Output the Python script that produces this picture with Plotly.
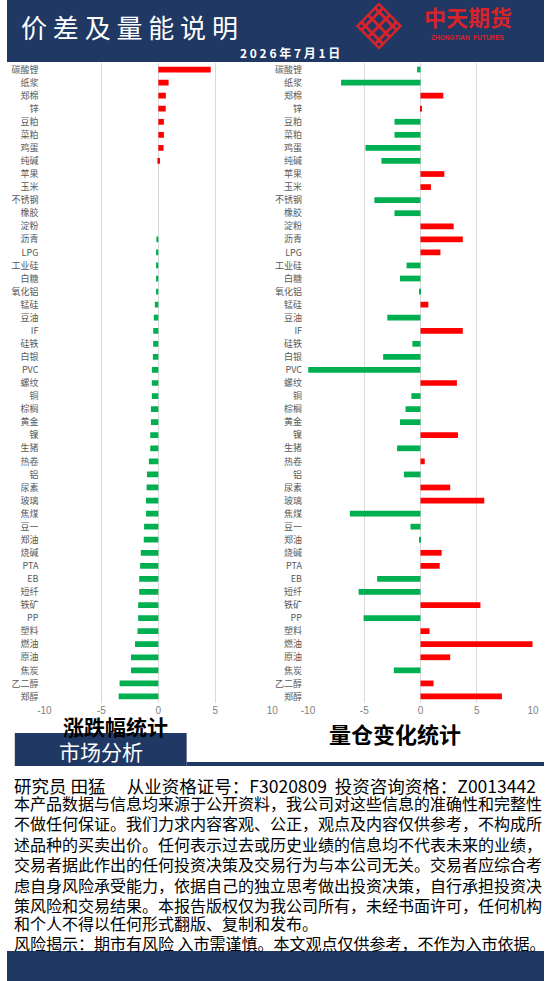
import plotly.graph_objects as go

W, H = 550, 981

categories = ["碳酸锂", "纸浆", "郑棉", "锌", "豆粕", "菜粕", "鸡蛋", "纯碱", "苹果", "玉米",
              "不锈钢", "橡胶", "淀粉", "沥青", "LPG", "工业硅", "白糖", "氧化铝", "锰硅", "豆油",
              "IF", "硅铁", "白银", "PVC", "螺纹", "铜", "棕榈", "黄金", "镍", "生猪",
              "热卷", "铝", "尿素", "玻璃", "焦煤", "豆一", "郑油", "烧碱", "PTA", "EB",
              "短纤", "铁矿", "PP", "塑料", "燃油", "原油", "焦炭", "乙二醇", "郑醇"]

price_change = [4.6, 0.9, 0.66, 0.65, 0.49, 0.49, 0.46, 0.15, 0, 0,
                0, 0, 0, -0.14, -0.2, -0.2, -0.2, -0.2, -0.31, -0.4,
                -0.45, -0.45, -0.48, -0.57, -0.57, -0.57, -0.65, -0.65, -0.71, -0.71,
                -0.83, -1.0, -1.03, -1.08, -1.08, -1.25, -1.28, -1.54, -1.6, -1.68,
                -1.68, -1.77, -1.77, -1.83, -2.05, -2.4, -2.4, -3.4, -3.48]

volume_oi_change = [-0.3, -7.06, 2.03, 0.12, -2.31, -2.31, -4.89, -3.47, 2.12, 0.93,
                    -4.1, -2.31, 2.95, 3.76, 1.77, -1.24, -1.82, -0.12, 0.7, -2.95,
                    3.76, -0.72, -3.32, -9.98, 3.24, -0.81, -1.33, -1.82, 3.33, -2.08,
                    0.38, -1.47, 2.64, 5.67, -6.28, -0.89, -0.1, 1.88, 1.71, -3.85,
                    -5.5, 5.33, -5.06, 0.81, 9.96, 2.64, -2.37, 1.16, 7.24]

x_ticks = [-10, -5, 0, 5, 10]

RED = "#FF0000"
GREEN = "#00B050"
NAVY = "#1F3864"


def px(x):
    return x / W


def py(y):
    return 1 - y / H


def colors(vals):
    return [RED if v > 0 else GREEN for v in vals]


fig = go.Figure()
fig.add_trace(go.Bar(y=categories, x=price_change, orientation="h",
                     marker=dict(color=colors(price_change), line=dict(width=0)),
                     xaxis="x", yaxis="y", showlegend=False))
fig.add_trace(go.Bar(y=categories, x=volume_oi_change, orientation="h",
                     marker=dict(color=colors(volume_oi_change), line=dict(width=0)),
                     xaxis="x2", yaxis="y2", showlegend=False))

y_dom = [py(703), py(63)]
axis_font = dict(family="Noto Sans CJK SC", size=9, color="#595959")
xcommon = dict(range=[-10, 10], tickvals=x_ticks, ticktext=[str(t) for t in x_ticks],
               showgrid=True, gridcolor="#D9D9D9", gridwidth=1, zeroline=False,
               showline=False, ticks="", tickfont=dict(family="Liberation Sans", size=10, color="#7F7F7F"),
               fixedrange=True)
ycommon = dict(type="category", autorange="reversed", showgrid=False, zeroline=False,
               showline=False, ticks="", tickfont=axis_font, ticklabelstandoff=5,
               domain=y_dom, fixedrange=True)

fig.update_layout(
    width=W, height=H,
    margin=dict(l=0, r=0, t=0, b=0),
    paper_bgcolor="white", plot_bgcolor="white",
    bargap=0.56,
    xaxis=dict(domain=[px(38.3), px(271.7)], anchor="y", **xcommon),
    yaxis=dict(anchor="x", **ycommon),
    xaxis2=dict(domain=[px(308.3), px(538.7)], anchor="y2", **xcommon),
    yaxis2=dict(anchor="x2", **ycommon),
)

shapes = [
    dict(type="rect", xref="paper", yref="paper", x0=0, x1=1, y0=py(62), y1=1,
         fillcolor=NAVY, line=dict(width=0), layer="below"),
    dict(type="rect", xref="paper", yref="paper", x0=px(8), x1=px(184), y0=py(766), y1=py(733),
         fillcolor=NAVY, line=dict(width=0)),
    dict(type="rect", xref="paper", yref="paper", x0=px(184), x1=1, y0=py(766), y1=py(762),
         fillcolor=NAVY, line=dict(width=0)),
    dict(type="rect", xref="paper", yref="paper", x0=0, x1=1, y0=0, y1=py(951),
         fillcolor=NAVY, line=dict(width=0)),
]

cx, cy, r = 381, 26, 22
LOGO = "#D8232A"
for k in (-1, 0, 1):
    o = k * 7
    shapes.append(dict(type="line", xref="paper", yref="paper",
                       x0=px(cx - r / 2 + o), y0=py(cy - r / 2 - o),
                       x1=px(cx + r / 2 + o), y1=py(cy + r / 2 - o),
                       line=dict(color=LOGO, width=3)))
    shapes.append(dict(type="line", xref="paper", yref="paper",
                       x0=px(cx - r / 2 + o), y0=py(cy + r / 2 + o),
                       x1=px(cx + r / 2 + o), y1=py(cy - r / 2 + o),
                       line=dict(color=LOGO, width=3)))
shapes.append(dict(type="path", xref="paper", yref="paper",
                   path=f"M {px(cx)} {py(cy - r)} L {px(cx + r)} {py(cy)} L {px(cx)} {py(cy + r)} L {px(cx - r)} {py(cy)} Z",
                   line=dict(color=LOGO, width=2.5)))
fig.update_layout(shapes=shapes)

ann = []


def text(x, y, s, size, color="black", anchor="left", family="Noto Sans CJK SC", bold=False):
    if bold:
        s = f"<b>{s}</b>"
    ann.append(dict(x=px(x), y=py(y), xref="paper", yref="paper", text=s, showarrow=False,
                    xanchor=anchor, yanchor="middle", borderpad=0,
                    font=dict(family=family, size=size, color=color)))


text(13, 26, "价 差 及 量 能 说 明", 26, "white")
text(290, 53, "2 0 2 6 年 7 月 1 日", 12, "white", anchor="center", bold=True)
text(472, 16, "中天期货", 22, LOGO, anchor="center", bold=True)
text(472, 37, "ZHONGTIAN  FUTURES", 6.5, LOGO, anchor="center", family="Liberation Sans", bold=True)

text(111, 726, "涨跌幅统计", 21, "black", anchor="center", bold=True)
text(397, 733, "量仓变化统计", 22, "black", anchor="center", bold=True)
text(96, 751, "市场分析", 21, "white", anchor="center")

lines = [
    "研究员 田猛　 从业资格证号：F3020809  投资咨询资格：Z0013442",
    "本产品数据与信息均来源于公开资料，我公司对这些信息的准确性和完整性",
    "不做任何保证。我们力求内容客观、公正，观点及内容仅供参考，不构成所",
    "述品种的买卖出价。任何表示过去或历史业绩的信息均不代表未来的业绩，",
    "交易者据此作出的任何投资决策及交易行为与本公司无关。交易者应综合考",
    "虑自身风险承受能力，依据自己的独立思考做出投资决策，自行承担投资决",
    "策风险和交易结果。本报告版权仅为我公司所有，未经书面许可，任何机构",
    "和个人不得以任何形式翻版、复制和发布。",
    "风险揭示：期市有风险 入市需谨慎。本文观点仅供参考，不作为入市依据。",
]
ys = [785, 803, 823, 844, 864, 885, 905, 923, 943]
for i, (s, y) in enumerate(zip(lines, ys)):
    text(6, y, s, 17.5 if i == 0 else 16, "black")

fig.update_layout(annotations=ann)

fig.write_html("out.html", config={"displayModeBar": False},
               post_script="document.body.style.margin='0';document.body.style.overflow='hidden';")
